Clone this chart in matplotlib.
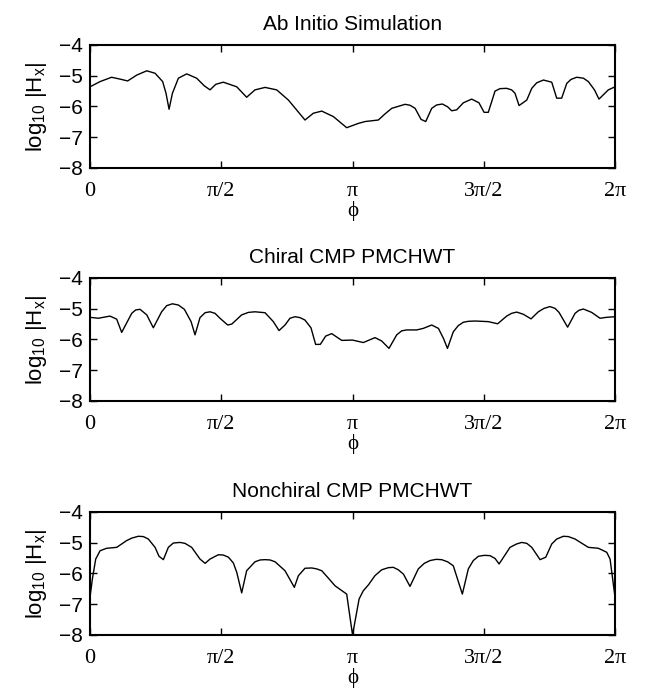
import numpy as np
import matplotlib.pyplot as plt

# angles, in degrees, with log10|Hx| values
phi1 = [0, 6.9, 14.8, 20.6, 25.8, 32, 38.9, 44.6, 49.8, 52.1, 54.2, 56.5, 60.6, 66.3,
        73.1, 78.4, 82.3, 86.2, 91.4, 100.6, 107.4, 113.1, 120, 128, 136, 147.4, 153.1,
        158.9, 166.9, 176, 184, 188.6, 197.7, 202.3, 206.9, 216, 219.4, 222.9, 227,
        230.2, 234.3, 237.7, 241.6, 245.2, 248, 251.4, 256, 261.7, 266.7, 270.2, 273.1,
        277.7, 281.1, 285.7, 289.1, 291.4, 294.2, 299.5, 302.9, 306.3, 310.9, 316.6,
        320, 323.4, 326.9, 329.8, 333.7, 338.3, 341.7, 345.9, 349, 355.4, 360]
h1 = [-5.36, -5.19, -5.05, -5.11, -5.17, -4.98, -4.84, -4.92, -5.19, -5.57, -6.09, -5.57,
      -5.08, -4.94, -5.08, -5.33, -5.46, -5.28, -5.21, -5.36, -5.70, -5.46, -5.38, -5.46,
      -5.79, -6.44, -6.22, -6.15, -6.33, -6.69, -6.55, -6.49, -6.44, -6.24, -6.06, -5.93,
      -5.96, -6.06, -6.42, -6.49, -6.06, -5.95, -5.92, -6.01, -6.14, -6.11, -5.88, -5.76,
      -5.88, -6.19, -6.19, -5.50, -5.42, -5.41, -5.46, -5.57, -5.97, -5.79, -5.41, -5.23,
      -5.14, -5.21, -5.73, -5.73, -5.25, -5.12, -5.05, -5.08, -5.19, -5.46, -5.76, -5.46,
      -5.36]

phi2 = [0, 5.7, 13.7, 18.3, 21.7, 28.6, 31.3, 34.3, 38.9, 43.4, 49.1, 52.6, 56.5, 60.6,
        64.7, 69.3, 72, 75.4, 78.9, 82.3, 85.7, 89.1, 94.4, 97.2, 104, 108.6, 113.1, 120,
        125.7, 129.6, 133.7, 137.1, 140.6, 144, 147.4, 151.5, 154.7, 157.9, 161.6, 165.7,
        172.6, 180, 187.4, 195.4, 200, 205, 210.3, 213.7, 217.1, 224, 228.5, 234.3,
        238.9, 242.3, 245.1, 249.1, 252.5, 256, 259.4, 264, 273.1, 279.5, 285.7, 289.1,
        292.6, 297.1, 302.4, 307.4, 311.3, 315.4, 318.9, 321.6, 327.5, 332.6, 335.3,
        338.3, 344, 349.7, 354.3, 360]
h2 = [-5.28, -5.31, -5.24, -5.34, -5.77, -5.15, -5.04, -5.02, -5.20, -5.62, -5.10, -4.90,
      -4.84, -4.88, -5.02, -5.42, -5.85, -5.29, -5.13, -5.10, -5.15, -5.31, -5.53, -5.50,
      -5.20, -5.12, -5.10, -5.13, -5.42, -5.71, -5.53, -5.31, -5.26, -5.29, -5.37, -5.62,
      -6.16, -6.16, -5.89, -5.81, -6.03, -6.02, -6.10, -5.94, -6.05, -6.29, -5.85, -5.72,
      -5.69, -5.69, -5.64, -5.53, -5.64, -5.96, -6.29, -5.75, -5.55, -5.44, -5.41, -5.40,
      -5.42, -5.49, -5.24, -5.15, -5.11, -5.18, -5.33, -5.10, -4.99, -4.93, -4.99, -5.12,
      -5.60, -5.15, -5.05, -5.01, -5.12, -5.31, -5.28, -5.26]

phi3 = [0, 1.6, 3.9, 6.9, 11.4, 18.3, 25.1, 28.6, 33.1, 36.6, 40, 44.6, 47.3, 50.3, 53.7,
        57.1, 61.7, 65.1, 69.7, 75.4, 78.9, 82.3, 88, 91.4, 94.9, 98.3, 100.6, 104, 107.4,
        113.1, 116.6, 120, 123.4, 126.9, 133.7, 140.1, 142.9, 147.4, 152, 155.4, 158.9,
        163.4, 168, 176, 180, 184.5, 187.4, 190.9, 195.4, 200, 204.6, 208, 211.4, 214.9,
        219.4, 225.1, 229.2, 233.1, 237.3, 241.1, 245.2, 249.1, 255.3, 259.4, 262.8,
        266.3, 270.4, 274.3, 277.7, 280.5, 288, 292.5, 296, 299.5, 302.9, 308.6, 312.5,
        316.6, 320, 324.6, 328, 332.6, 341.7, 348.6, 354.3, 356.6, 360]
h3 = [-6.77, -6.18, -5.53, -5.26, -5.18, -5.15, -4.93, -4.85, -4.79, -4.80, -4.88, -5.15,
      -5.44, -5.55, -5.15, -5.01, -4.99, -5.02, -5.15, -5.53, -5.67, -5.53, -5.39, -5.40,
      -5.47, -5.66, -5.96, -6.63, -5.91, -5.62, -5.56, -5.55, -5.56, -5.62, -5.91, -6.45,
      -6.07, -5.83, -5.82, -5.85, -5.91, -6.15, -6.40, -6.67, -8.00, -6.83, -6.56, -6.37,
      -6.07, -5.88, -5.81, -5.80, -5.88, -6.02, -6.42, -5.85, -5.67, -5.58, -5.54, -5.55,
      -5.62, -5.75, -6.67, -5.85, -5.58, -5.44, -5.41, -5.42, -5.51, -5.69, -5.15, -5.04,
      -4.99, -5.02, -5.15, -5.55, -5.47, -5.04, -4.88, -4.79, -4.80, -4.88, -5.15, -5.18,
      -5.31, -5.53, -6.77]

titles = ['Ab Initio Simulation', 'Chiral CMP PMCHWT', 'Nonchiral CMP PMCHWT']
xtick_labels = ['0', 'π/2', 'π', '3π/2', '2π']
yticks = [-8, -7, -6, -5, -4]

plt.rcParams['font.family'] = ['Liberation Sans', 'DejaVu Sans']
plt.rcParams['mathtext.fontset'] = 'custom'
plt.rcParams['mathtext.rm'] = 'Liberation Sans'
plt.rcParams['mathtext.it'] = 'Liberation Sans'

fig = plt.figure(figsize=(6.5, 6.93), dpi=100)
bottoms = [0.7576, 0.4214, 0.0837]
serif = ['Liberation Serif', 'DejaVu Serif']

for k, (phi, h) in enumerate([(phi1, h1), (phi2, h2), (phi3, h3)]):
    ax = fig.add_axes([0.1385, bottoms[k], 0.8077, 0.1775])
    ax.plot(np.radians(phi), h, color='black', lw=1.0)
    ax.set_xlim(0, 2 * np.pi)
    ax.set_ylim(-8, -4)
    ax.set_xticks(np.arange(5) * np.pi / 2)
    ax.set_xticklabels(xtick_labels, family=serif, fontsize=16)
    ax.set_yticks(yticks)
    ax.set_yticklabels(['\u2212%d' % abs(v) for v in yticks], fontsize=15)
    ax.tick_params(direction='in', top=True, right=True, length=5, width=1)
    ax.tick_params(axis='x', pad=10)
    ax.tick_params(axis='y', pad=5)
    for s in ax.spines.values():
        s.set_linewidth(1.5)
    ax.set_title(titles[k], fontsize=15, pad=11)
    ax.set_xlabel('ϕ', family=serif, fontsize=15, labelpad=0)
    ax.set_ylabel(r'$\mathregular{log_{10}\ |H_x|}$', fontsize=16, labelpad=7)

plt.savefig('out.png', dpi=100)
